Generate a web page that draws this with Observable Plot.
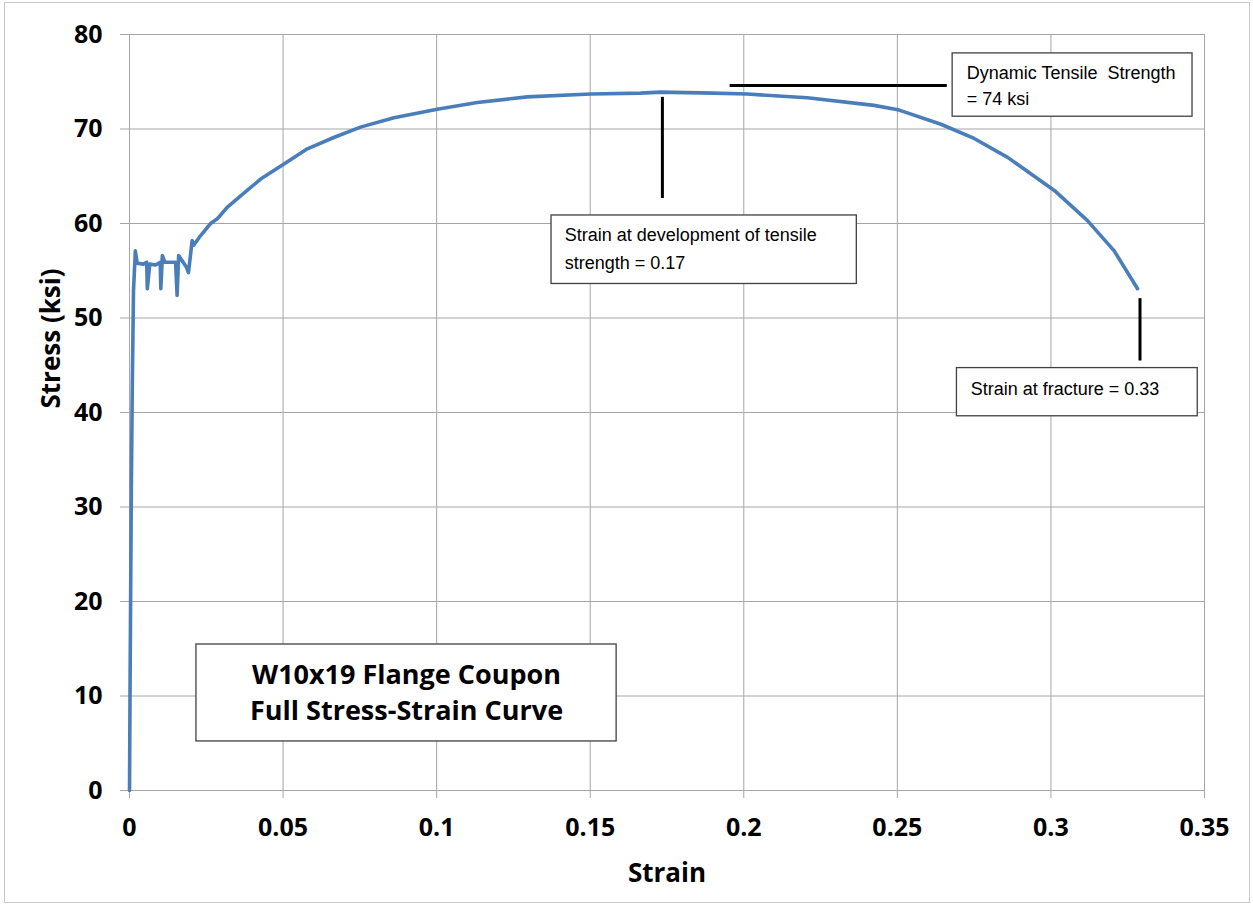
<!DOCTYPE html>
<html><head><meta charset="utf-8">
<script src="https://cdn.jsdelivr.net/npm/d3@7"></script>
<script src="https://cdn.jsdelivr.net/npm/@observablehq/plot@0.6"></script>
<style>
html,body{margin:0;padding:0;background:#fff;}
#chart svg{display:block;}
</style></head><body><div id="chart"></div>
<script>
// ---- data ----
const strain = [0, 0.0002, 0.0004, 0.0006, 0.0009, 0.0013, 0.0019, 0.0025, 0.0045, 0.0056, 0.0058, 0.0066, 0.0085, 0.0100, 0.0102, 0.0107, 0.0115, 0.0150, 0.0155, 0.0160, 0.0185, 0.0192, 0.0204, 0.0209, 0.0231, 0.0264, 0.0286, 0.0318, 0.0383, 0.0427, 0.0503, 0.0579, 0.0665, 0.0752, 0.0861, 0.1002, 0.1132, 0.1295, 0.1502, 0.1664, 0.1730, 0.1900, 0.2012, 0.2207, 0.2424, 0.2506, 0.2642, 0.2750, 0.2859, 0.3011, 0.3119, 0.3206, 0.3282];
const stress = [0, 11.8, 22.0, 32.0, 42.5, 52.9, 57.1, 55.8, 55.7, 55.9, 53.1, 55.7, 55.6, 55.9, 53.1, 56.6, 55.9, 55.9, 52.4, 56.6, 55.4, 54.8, 58.2, 57.7, 58.7, 60.0, 60.5, 61.7, 63.5, 64.7, 66.3, 67.9, 69.1, 70.2, 71.2, 72.1, 72.8, 73.4, 73.7, 73.8, 73.9, 73.8, 73.7, 73.3, 72.5, 72.0, 70.5, 69.0, 67.0, 63.5, 60.3, 57.1, 53.1];

const xTicks = [0, 0.05, 0.1, 0.15, 0.2, 0.25, 0.3, 0.35];
const xTickLabels = ["0", "0.05", "0.1", "0.15", "0.2", "0.25", "0.3", "0.35"];
const yTicks = [0, 10, 20, 30, 40, 50, 60, 70, 80];

// annotation leader lines (strain, stress)
const leaderX1 = [0.1954, 0.1735, 0.3290];
const leaderY1 = [74.6, 73.4, 52.1];
const leaderX2 = [0.2661, 0.1735, 0.3290];
const leaderY2 = [74.6, 62.7, 45.5];

// annotation boxes (strain/stress extents)
const boxX1 = [0.2680, 0.1374, 0.2694, 0.0218];
const boxX2 = [0.3461, 0.2368, 0.3478, 0.1586];
const boxY1 = [71.3, 53.6, 39.6, 5.19];
const boxY2 = [78.0, 60.85, 44.7, 15.45];

// annotation text lines
const noteText = ["Dynamic Tensile  Strength", "= 74 ksi", "Strain at development of tensile", "strength = 0.17", "Strain at fracture = 0.33"];
const noteX = [0.2726, 0.2726, 0.1417, 0.1417, 0.2739];
const noteY = [75.31, 72.56, 58.1, 55.2, 41.8];

const titleText = ["W10x19 Flange Coupon", "Full Stress-Strain Curve"];
const titleX = [0.0902, 0.0902];
const titleY = [11.29, 7.41];

// ---- build tables ----
const curve = strain.map((s, i) => ({strain: s, stress: stress[i]}));
const leaders = leaderX1.map((d, i) => ({x1: d, y1: leaderY1[i], x2: leaderX2[i], y2: leaderY2[i]}));
const boxes = boxX1.map((d, i) => ({x1: d, x2: boxX2[i], y1: boxY1[i], y2: boxY2[i]}));
const notes = noteText.map((t, i) => ({t, x: noteX[i], y: noteY[i]}));
const titles = titleText.map((t, i) => ({t, x: titleX[i], y: titleY[i]}));

const grid = "#a6a6a6";
const boldFont = "'Open Sans', 'DejaVu Sans', sans-serif";
const narrowFont = "'Liberation Sans Narrow', 'Arial Narrow', 'Liberation Sans', sans-serif";

const chart = Plot.plot({
  width: 1253,
  height: 905,
  marginLeft: 129,
  marginRight: 49,
  marginTop: 34,
  marginBottom: 115,
  style: {background: "#fff", overflow: "visible"},
  x: {domain: [0, 0.35], ticks: xTicks},
  y: {domain: [0, 80], ticks: yTicks},
  marks: [
    Plot.frame({insetLeft: -125, insetRight: -45, insetTop: -32, insetBottom: -112, stroke: "#c8c8c8"}),
    Plot.gridX(xTicks, {stroke: grid, strokeOpacity: 1}),
    Plot.gridY(yTicks, {stroke: grid, strokeOpacity: 1}),
    Plot.axisX({ticks: xTicks, tickFormat: (d, i) => xTickLabels[i], tickSize: 8, tickPadding: 20,
      stroke: grid, fill: "#000", fontSize: 25, fontWeight: "bold", fontFamily: boldFont, label: null}),
    Plot.axisY({ticks: yTicks, tickSize: 9, tickPadding: 18,
      stroke: grid, fill: "#000", fontSize: 25, fontWeight: "bold", fontFamily: boldFont, label: null}),
    Plot.ruleX([0], {stroke: grid}),
    Plot.ruleY([0], {stroke: grid}),
    Plot.text(["Strain"], {frameAnchor: "bottom", dy: 91, lineAnchor: "bottom", fontSize: 26, fontWeight: "bold", fontFamily: boldFont, fill: "#000"}),
    Plot.text(["Stress (ksi)"], {frameAnchor: "left", dx: -70, dy: -4, rotate: -90, lineAnchor: "bottom", fontSize: 26, fontWeight: "bold", fontFamily: boldFont, fill: "#000"}),
    Plot.line(curve, {x: "strain", y: "stress", stroke: "#4a7ebb", strokeWidth: 3.6, strokeLinejoin: "round", strokeLinecap: "round"}),
    Plot.link(leaders, {x1: "x1", y1: "y1", x2: "x2", y2: "y2", stroke: "#000", strokeWidth: 3}),
    Plot.rect(boxes, {x1: "x1", x2: "x2", y1: "y1", y2: "y2", fill: "#fff", stroke: "#404040", strokeWidth: 1.3}),
    Plot.text(notes, {x: "x", y: "y", text: "t", textAnchor: "start", lineAnchor: "bottom", fontSize: 18, fontFamily: narrowFont, fill: "#000"}),
    Plot.text(titles, {x: "x", y: "y", text: "t", textAnchor: "middle", lineAnchor: "bottom", fontSize: 27, fontWeight: "bold", fontFamily: boldFont, fill: "#000"})
  ]
});
document.getElementById("chart").appendChild(chart);
</script>
</body></html>
